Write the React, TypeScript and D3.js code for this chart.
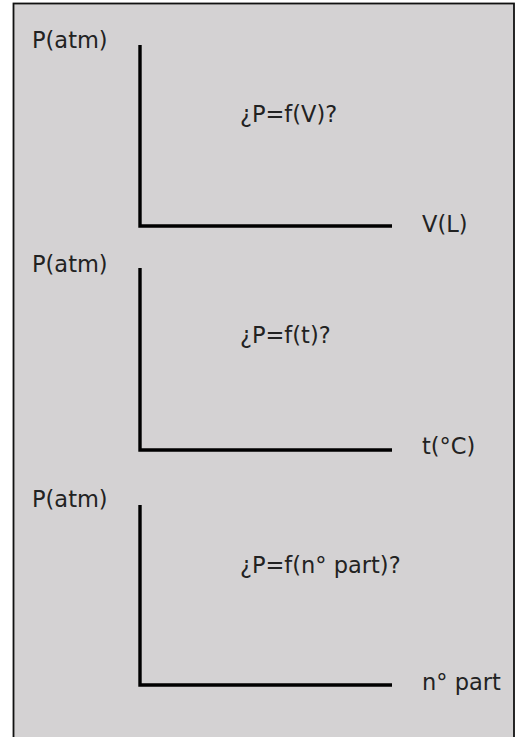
import React, { useEffect, useRef } from 'react';
import * as d3 from 'd3';

// Three empty sketch axes: P as a function of V, t and number of particles
const yLabels = ['P(atm)', 'P(atm)', 'P(atm)'];
const xLabels = ['V(L)', 't(°C)', 'n° part'];
const questions = ['¿P=f(V)?', '¿P=f(t)?', '¿P=f(n° part)?'];

export default function App() {
  const ref = useRef<SVGSVGElement>(null);

  useEffect(() => {
    const width = 521;
    const height = 737;
    const svg = d3.select(ref.current).attr('viewBox', `0 0 ${width} ${height}`);
    svg.selectAll('*').remove();

    // frame
    svg
      .append('rect')
      .attr('x', 13.5)
      .attr('y', 3.5)
      .attr('width', 500.5)
      .attr('height', 800)
      .attr('fill', '#d4d2d3')
      .attr('stroke', '#111')
      .attr('stroke-width', 1.8);

    const panels = [
      { top: 45, bottom: 226, yLab: 48, q: 122, xLab: 232 },
      { top: 268, bottom: 450, yLab: 272, q: 343, xLab: 454 },
      { top: 505, bottom: 685, yLab: 507, q: 573, xLab: 690 },
    ];

    const x = d3.scaleLinear().domain([0, 1]).range([140, 392]);
    const font = "'DejaVu Sans', Verdana, sans-serif";

    panels.forEach((p, i) => {
      const y = d3.scaleLinear().domain([0, 1]).range([p.bottom, p.top]);
      const g = svg.append('g');

      const line = d3
        .line<[number, number]>()
        .x(d => x(d[0]))
        .y(d => y(d[1]));

      g.append('path')
        .attr('d', line([[0, 1], [0, 0], [1, 0]]))
        .attr('fill', 'none')
        .attr('stroke', '#000')
        .attr('stroke-width', 3.4)
        .attr('stroke-linejoin', 'miter');

      const txt = (s: string, tx: number, ty: number) =>
        g
          .append('text')
          .attr('x', tx)
          .attr('y', ty)
          .attr('font-family', font)
          .attr('font-size', 22.5)
          .attr('fill', '#222')
          .text(s);

      txt(yLabels[i], 32, p.yLab);
      txt(questions[i], 240, p.q);
      txt(xLabels[i], 422, p.xLab);
    });
  }, []);

  return (
    <svg
      ref={ref}
      width={521}
      height={737}
      style={{ position: 'absolute', left: 0, top: 0, display: 'block' }}
    />
  );
}
